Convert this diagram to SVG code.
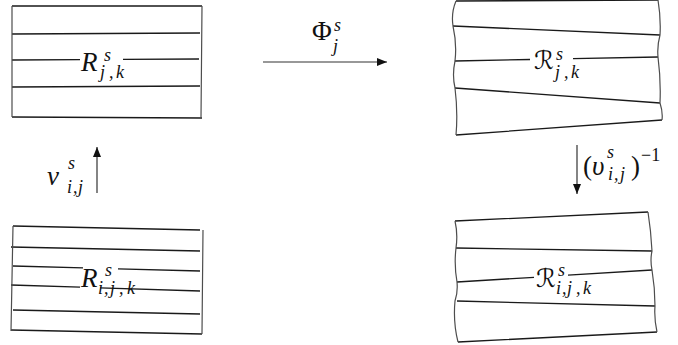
<svg xmlns="http://www.w3.org/2000/svg" width="678" height="345" viewBox="0 0 678 345">
<defs>
<style>
.ln{stroke:#1a1a1a;stroke-width:1.3;fill:none}
.ed{stroke:#4d4d4d;stroke-width:1.2;fill:none}
.t{font-family:"Liberation Serif",serif;font-style:italic;font-size:27px;fill:#111}
.u{font-style:normal}
.c{font-family:"DejaVu Serif","DejaVu Sans",serif;font-style:normal;font-size:25px}
.s{font-size:18px}
.arr{stroke:#333;stroke-width:1.2;fill:none;marker-end:url(#ah)}
</style>
<marker id="ah" markerWidth="10" markerHeight="8" refX="10" refY="4" orient="auto" markerUnits="userSpaceOnUse">
<path d="M0,0 L10,4 L0,8 z" fill="#111"/>
</marker>
</defs>
<rect width="678" height="345" fill="#fff"/>
<g id="R_jk">
<path class="ln" d="M12,6 L202,6 M12,34 L200,33 M12,60 L80,59.7 M123,59.4 L199,59 M12,87 L200,86 M12,117 L202,118"/>
<path class="ed" d="M12,6 L12,117 M202,6 L201,118"/>
<text class="t"><tspan x="81" y="71">R</tspan><tspan class="s" x="104" y="61">s</tspan><tspan class="s" x="100 109 116" y="78">j,k</tspan></text>
</g>
<g id="calR_jk">
<path class="ln" d="M456,1 L658,0 M453,26 L660,35 M455,61 L530,59.5 M573,58.7 L658,57 M455,88 L660,103 M456,135 L662,120"/>
<path class="ed" d="M456,1 Q451,13 453,26 Q457,44 455,61 Q452,75 455,88 Q458,112 456,135 M658,0 Q661,18 660,35 Q657,46 658,57 Q661,80 660,103 Q663,112 662,120"/>
<text class="t"><tspan class="c" x="534" y="69">ℛ</tspan><tspan class="s" x="556" y="60">s</tspan><tspan class="s" x="555 564 571" y="78">j,k</tspan></text>
</g>
<g id="R_ijk">
<path class="ln" d="M13,266 L83,267.9 M118,268.8 L200,271 M13,226 L200,230 M11,247 L200,251 M11,285 L80,287.2 M100,287.8 L200,291 M13,310 L200,314 M11,330 L202,334"/>
<path class="ed" d="M13,226 L11,331 M203,230 L202,334"/>
<text class="t"><tspan x="81" y="287">R</tspan><tspan class="s" x="105" y="276">s</tspan><tspan class="s" x="98 104 110 119 127" y="294">i,j,k</tspan></text>
</g>
<g id="calR_ijk">
<path class="ln" d="M455,221 L648,212 M456,248 L652,251 M457,282 L534,277.3 M568,275.2 L652,270 M457,301 L655,306 M458,342 L657,332"/>
<path class="ed" d="M455,221 Q458,234 456,248 Q454,265 457,282 Q458,292 455,301 Q453,322 458,342 M648,212 Q651,231 652,251 Q650,260 652,270 Q655,288 655,306 Q654,318 657,332"/>
<text class="t"><tspan class="c" x="536" y="287">ℛ</tspan><tspan class="s" x="558" y="276">s</tspan><tspan class="s" x="556 562 567 576 583" y="294">i,j,k</tspan></text>
</g>
<g id="connectors">
<line class="arr" x1="263" y1="62" x2="387" y2="62"/>
<line class="arr" x1="97" y1="193" x2="97" y2="147"/>
<line class="arr" x1="577" y1="145" x2="577" y2="194"/>
</g>
<g id="labels">
<text class="t"><tspan class="u" x="312" y="40">Φ</tspan><tspan class="s" x="334" y="31">s</tspan><tspan class="s" x="333" y="52">j</tspan></text>
<text class="t"><tspan x="47" y="185">ν</tspan><tspan class="s" x="68" y="169">s</tspan><tspan class="s" x="67 73 78" y="193">i,j</tspan></text>
<text class="t"><tspan class="u" x="583" y="175">(</tspan><tspan x="592" y="175">υ</tspan><tspan class="s" x="607" y="158">s</tspan><tspan class="s" x="608 614 620" y="180">i,j</tspan><tspan class="u" x="631" y="175">)</tspan><tspan class="u s" x="641" y="161">−1</tspan></text>
</g>
</svg>
